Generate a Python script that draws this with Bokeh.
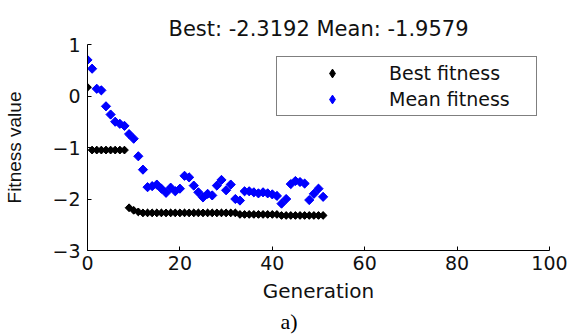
import math
from bokeh.plotting import figure
from bokeh.models import Range1d, FixedTicker, Legend, LegendItem, Title
from bokeh.embed import file_html
from bokeh.resources import INLINE

title_text = "Best: -2.3192 Mean: -1.9579"
x_label = "Generation"
y_label = "Fitness value"
caption = "a)"
x_ticks = [0, 20, 40, 60, 80, 100]
y_ticks = [-3, -2, -1, 0, 1]

generations = list(range(52))
best_fitness = [0.17] + [-1.05] * 8 + [-2.17, -2.22, -2.25] + [-2.27] * 21 + [-2.30] * 9 + [-2.32] * 9 + [-2.3192]
mean_fitness = [0.70, 0.53, 0.14, 0.11, -0.20, -0.36, -0.50, -0.54, -0.58, -0.74,
                -0.83, -1.17, -1.43, -1.77, -1.75, -1.72, -1.80, -1.88, -1.78, -1.85,
                -1.80, -1.55, -1.58, -1.74, -1.87, -1.97, -1.90, -1.93, -1.74, -1.63,
                -1.83, -1.72, -2.00, -2.03, -1.85, -1.85, -1.87, -1.89, -1.87, -1.89,
                -1.91, -1.94, -2.09, -2.00, -1.71, -1.65, -1.67, -1.70, -2.02, -1.90,
                -1.80, -1.9579]

SANS = "DejaVu Sans"
TXT = "#111111"

p = figure(width=573, height=336, output_backend="svg", toolbar_location=None,
           x_range=Range1d(0, 100), y_range=Range1d(-3, 1),
           min_border_left=87, min_border_right=24, min_border_top=44, min_border_bottom=86)
p.outline_line_color = None
p.xgrid.visible = False
p.ygrid.visible = False
p.background_fill_color = "white"
p.border_fill_color = "white"

p.title.text = title_text
p.title.align = "center"
p.title.text_font = SANS
p.title.text_font_size = "21px"
p.title.text_font_style = "normal"
p.title.text_color = TXT
p.title.standoff = 8

for ax, ticks in ((p.xaxis[0], x_ticks), (p.yaxis[0], y_ticks)):
    ax.ticker = FixedTicker(ticks=ticks)
    ax.major_tick_in = 4
    ax.major_tick_out = 0
    ax.minor_tick_line_color = None
    ax.axis_line_color = "black"
    ax.major_tick_line_color = "black"
    ax.major_label_text_font = SANS
    ax.major_label_text_font_size = "19px"
    ax.major_label_text_color = TXT
    ax.axis_label_text_font = SANS
    ax.axis_label_text_font_style = "normal"
    ax.axis_label_text_color = TXT

p.xaxis.axis_label = x_label
p.xaxis.axis_label_text_font_size = "20px"
p.xaxis.major_label_standoff = 5
p.xaxis.axis_label_standoff = 6

p.yaxis.axis_label = y_label
p.yaxis.axis_label_text_font = "Liberation Sans"
p.yaxis.axis_label_text_font_size = "19px"
p.yaxis.major_label_standoff = 7
p.yaxis.axis_label_standoff = 24

# diamonds (used as legend swatches), covered by the rotated-square markers
k_best = p.scatter(generations, best_fitness, marker="diamond", size=7, color="black")
k_mean = p.scatter(generations, mean_fitness, marker="diamond", size=8, color="blue")
r_best = p.scatter(generations, best_fitness, marker="square", angle=math.pi / 4,
                   size=5.5, color="black")
r_mean = p.scatter(generations, mean_fitness, marker="square", angle=math.pi / 4,
                   size=6.5, color="blue")

legend = Legend(items=[LegendItem(label="Best fitness", renderers=[k_best]),
                       LegendItem(label="Mean fitness", renderers=[k_mean])],
                location="top_right", margin=12, padding=5, spacing=4,
                glyph_width=100, glyph_height=22, label_height=22,
                label_width=142, label_standoff=7,
                label_text_font=SANS, label_text_font_size="19px",
                label_text_color=TXT, border_line_color="black",
                border_line_width=1, background_fill_alpha=1.0)
p.add_layout(legend)

cap = Title(text=caption, align="left", offset=193, standoff=2,
            text_font="Liberation Serif", text_font_size="22px",
            text_font_style="normal", text_color="black")
p.add_layout(cap, "below")

open("out.html", "w").write(file_html(p, INLINE))
